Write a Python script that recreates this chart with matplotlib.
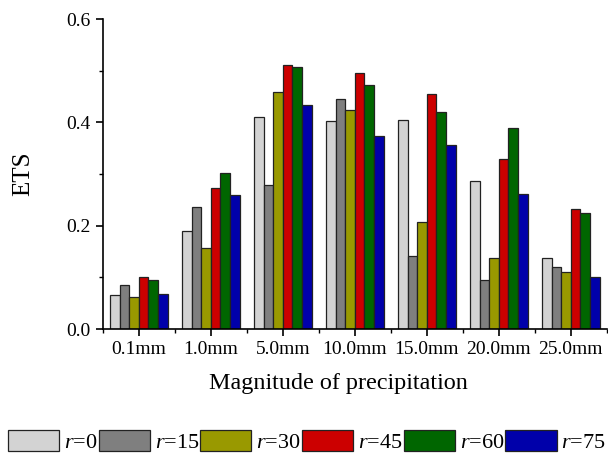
import matplotlib
matplotlib.use("Agg")
import matplotlib.pyplot as plt
import numpy as np
from matplotlib.ticker import MultipleLocator, FixedLocator

plt.rcParams['font.family'] = ['Liberation Serif', 'DejaVu Serif']
plt.rcParams['mathtext.fontset'] = 'custom'
plt.rcParams['mathtext.it'] = 'Liberation Serif:italic'
plt.rcParams['mathtext.rm'] = 'Liberation Serif'

categories = ['0.1mm', '1.0mm', '5.0mm', '10.0mm', '15.0mm', '20.0mm', '25.0mm']
series_labels = ['0', '15', '30', '45', '60', '75']

ets_r0 = [0.066, 0.190, 0.411, 0.402, 0.404, 0.286, 0.138]
ets_r15 = [0.086, 0.237, 0.279, 0.446, 0.142, 0.095, 0.121]
ets_r30 = [0.063, 0.157, 0.459, 0.425, 0.208, 0.138, 0.111]
ets_r45 = [0.100, 0.273, 0.512, 0.496, 0.455, 0.330, 0.232]
ets_r60 = [0.095, 0.302, 0.508, 0.472, 0.421, 0.389, 0.224]
ets_r75 = [0.068, 0.259, 0.434, 0.374, 0.357, 0.261, 0.101]

series = [ets_r0, ets_r15, ets_r30, ets_r45, ets_r60, ets_r75]
colors = ['#d3d3d3', '#7f7f7f', '#999900', '#cc0000', '#006600', '#0000aa']

fig = plt.figure(figsize=(6.08, 4.54), dpi=100)
ax = fig.add_axes([0.169, 0.275, 0.829, 0.683])

x = np.arange(len(categories))
w = 0.8 / len(series)
for i, vals in enumerate(series):
    ax.bar(x - 0.4 + w * (i + 0.5), vals, width=w, color=colors[i],
           edgecolor='#222222', linewidth=0.9,
           label='$r$=' + series_labels[i])

ax.set_xlim(-0.5, len(categories) - 0.5)
ax.set_ylim(0, 0.6)
ax.set_xticks(x)
ax.set_xticklabels(categories)
ax.xaxis.set_minor_locator(FixedLocator(np.arange(-0.5, len(categories), 1.0)))
ax.yaxis.set_major_locator(MultipleLocator(0.2))
ax.yaxis.set_minor_locator(MultipleLocator(0.1))
ax.yaxis.set_major_formatter(plt.FuncFormatter(lambda v, p: '%.1f' % v))

for s in ['top', 'right']:
    ax.spines[s].set_visible(False)
for s in ['left', 'bottom']:
    ax.spines[s].set_linewidth(1.2)
ax.tick_params(which='major', direction='out', length=5, width=1.2, labelsize=14)
ax.tick_params(which='minor', direction='out', length=3, width=1.0)

ax.set_ylabel('ETS', fontsize=18)
ax.yaxis.set_label_coords(-0.135, 0.5)
ax.set_xlabel('Magnitude of precipitation', fontsize=17.4)
ax.xaxis.set_label_coords(0.468, -0.14)

fig.legend(loc='lower center', bbox_to_anchor=(0.505, 0.0), ncol=6, frameon=False,
           fontsize=16, handlelength=2.3, handleheight=1.08, handletextpad=0.22,
           columnspacing=0.05, borderaxespad=0.0, borderpad=0.05)

fig.savefig('out.png', dpi=100)
